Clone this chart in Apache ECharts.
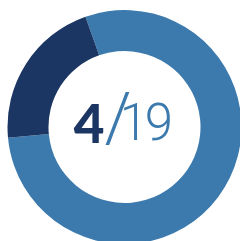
<!DOCTYPE html>
<html>
<head>
<meta charset="utf-8">
<script src="https://cdn.jsdelivr.net/npm/echarts@6/dist/echarts.min.js"></script>
<style>
  html, body { margin: 0; padding: 0; background: #fff; }
  #main { width: 240px; height: 241px; }
</style>
</head>
<body>
<div id="main"></div>
<script>
// data
var sliceNames = ["rest", "done"];
var sliceValues = [15, 4];
var sliceColors = ["#3c7aad", "#1b3663"];

var done = sliceValues[1];
var total = sliceValues[0] + sliceValues[1];
var totalDigits = String(total).split("");

var myChart = echarts.init(document.getElementById("main"));

// center caption "4/19", pieces placed by hand to match the tight spacing
var caption = [
  {
    type: "text", x: 89, y: 126,
    style: { text: String(done), align: "center", verticalAlign: "middle",
      fontFamily: "Lato", fontWeight: 900, fontSize: 53, fill: sliceColors[1] }
  },
  {
    type: "text", x: 118, y: 124,
    style: { text: "/", align: "center", verticalAlign: "middle",
      fontFamily: "Roboto", fontWeight: 300, fontSize: 68, fill: sliceColors[0] }
  },
  {
    type: "text", x: 134, y: 127,
    style: { text: totalDigits[0], align: "center", verticalAlign: "middle",
      fontFamily: "Roboto", fontWeight: 300, fontSize: 51, fill: sliceColors[0] }
  },
  {
    type: "text", x: 159, y: 127,
    style: { text: totalDigits[1], align: "center", verticalAlign: "middle",
      fontFamily: "Roboto", fontWeight: 300, fontSize: 51, fill: sliceColors[0] }
  }
];

var option = {
  animation: false,
  graphic: caption,
  series: [
    {
      type: "pie",
      center: [124.5, 127],
      radius: [76, 117],
      startAngle: 109.5,
      clockwise: true,
      silent: true,
      label: { show: false },
      labelLine: { show: false },
      data: sliceNames.map(function (n, i) {
        return { name: n, value: sliceValues[i], itemStyle: { color: sliceColors[i] } };
      })
    }
  ]
};

myChart.setOption(option);
</script>
</body>
</html>
